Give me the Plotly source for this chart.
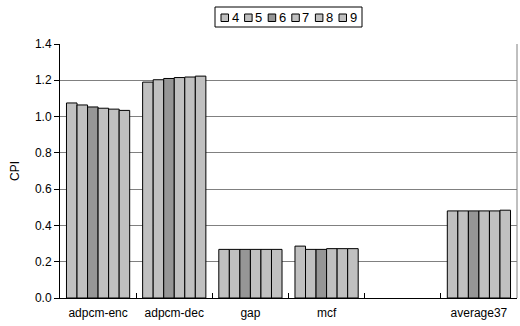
import plotly.graph_objects as go

# Benchmarks (the blank slot keeps a gap before the average)
categories = ["adpcm-enc", "adpcm-dec", "gap", "mcf", " ", "average37"]
series_names = ["4", "5", "6", "7", "8", "9"]

cpi_4 = [1.075, 1.190, 0.268, 0.286, None, 0.480]
cpi_5 = [1.064, 1.203, 0.268, 0.268, None, 0.480]
cpi_6 = [1.053, 1.210, 0.268, 0.268, None, 0.480]
cpi_7 = [1.046, 1.215, 0.268, 0.272, None, 0.480]
cpi_8 = [1.041, 1.218, 0.268, 0.272, None, 0.480]
cpi_9 = [1.034, 1.223, 0.268, 0.272, None, 0.484]
series_values = [cpi_4, cpi_5, cpi_6, cpi_7, cpi_8, cpi_9]

colors = ["#C0C0C0", "#C0C0C0", "#969696", "#C0C0C0", "#C0C0C0", "#C0C0C0"]

W, H = 520, 326
ML, MR, MT, MB = 60, 3, 44, 28
PW, PH = W - ML - MR, H - MT - MB


def px_x(p):
    return (p - ML) / PW


def px_y(p):
    return (H - MB - p) / PH


fig = go.Figure()
for name, vals, col in zip(series_names, series_values, colors):
    fig.add_trace(go.Bar(
        name=name, x=categories, y=vals,
        marker=dict(color=col, line=dict(color="#000000", width=1)),
        showlegend=False,
    ))

shapes = []
annotations = []

# right-hand plot border
shapes.append(dict(type="line", xref="paper", yref="paper", x0=1, x1=1, y0=0, y1=1,
                   line=dict(color="#808080", width=1)))

# legend box
lx0, lx1, ly0, ly1 = 215, 362, 7, 27
shapes.append(dict(type="rect", xref="paper", yref="paper",
                   x0=px_x(lx0), x1=px_x(lx1), y0=px_y(ly1), y1=px_y(ly0),
                   line=dict(color="#000000", width=1), fillcolor="white"))
pitch = 23.6
for i, (name, col) in enumerate(zip(series_names, colors)):
    sx = 221 + i * pitch
    shapes.append(dict(type="rect", xref="paper", yref="paper",
                       x0=px_x(sx), x1=px_x(sx + 7.5), y0=px_y(21.5), y1=px_y(14),
                       line=dict(color="#000000", width=1), fillcolor=col))
    annotations.append(dict(xref="paper", yref="paper", x=px_x(sx + 8.5), y=px_y(17.5),
                            text=name, showarrow=False, xanchor="left", yanchor="middle",
                            font=dict(size=13, color="#000000")))

fig.update_layout(
    width=W, height=H,
    margin=dict(l=ML, r=MR, t=MT, b=MB),
    paper_bgcolor="white", plot_bgcolor="white",
    barmode="group", bargap=0.17, bargroupgap=0,
    font=dict(family="Liberation Sans, Arial, sans-serif", size=12, color="#000000"),
    shapes=shapes, annotations=annotations,
    xaxis=dict(
        type="category", categoryorder="array", categoryarray=categories,
        showline=True, linecolor="#000000", linewidth=1,
        ticks="inside", tickson="boundaries", ticklen=5, tickcolor="#000000",
        showgrid=False, tickfont=dict(size=12), ticklabelstandoff=4,
    ),
    yaxis=dict(
        range=[0, 1.4], dtick=0.2, tickformat=".1f",
        showline=True, linecolor="#000000", linewidth=1,
        ticks="outside", ticklen=5, tickcolor="#000000",
        showgrid=True, gridcolor="#808080", gridwidth=1, zeroline=False,
        title=dict(text="CPI", font=dict(size=12), standoff=12),
        tickfont=dict(size=12),
    ),
)

fig.write_html("out.html")
